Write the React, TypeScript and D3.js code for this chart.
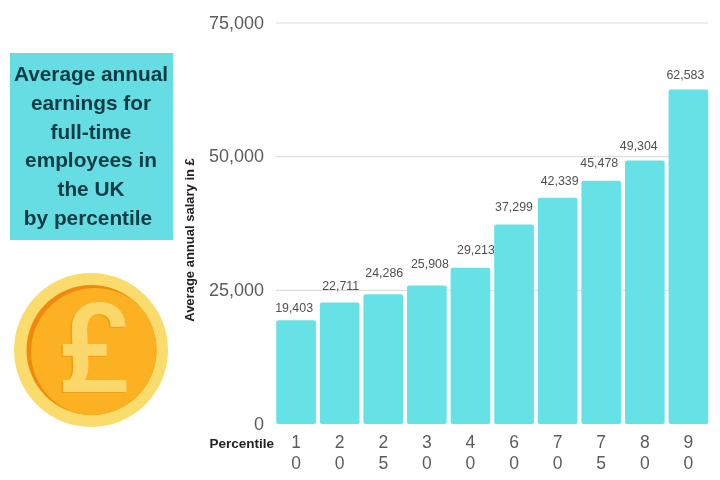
import React from "react";
import * as d3 from "d3";

const percentiles = ["10", "20", "25", "30", "40", "60", "70", "75", "80", "90"];
const salaries = [19403, 22711, 24286, 25908, 29213, 37299, 42339, 45478, 49304, 62583];
const yTicks = [0, 25000, 50000, 75000];
const titleLines = ["Average annual", "earnings for", "full-time", "employees in", "the UK", "by percentile"];
// hand-placed offsets of the value labels in the original picture
const labelShiftX = [-2, 1, 1, 3, 5.5, 0, 2, -2, -6, -3];
const labelGap = [8, 12.5, 17.5, 17.5, 13.5, 14, 13, 13.5, 10, 10];

const FONT = "'Liberation Sans', Arial, sans-serif";

export default function App() {
  const x = d3.scaleBand<string>().domain(percentiles).range([274.5, 710]).paddingInner(0.09).paddingOuter(0.04);
  const y = d3.scaleLinear().domain([0, 75000]).range([424, 23]);
  const fmt = d3.format(",");
  return (
    <svg width={720} height={480} style={{ position: "absolute", left: 0, top: 0, background: "#fff" }} fontFamily={FONT}>
      <defs>
        <filter id="soft" x="-5%" y="-5%" width="110%" height="110%">
          <feGaussianBlur stdDeviation="0.5" />
        </filter>
        <clipPath id="coinClip"><circle cx={91.5} cy={350} r={65} /></clipPath>
      </defs>
      <g filter="url(#soft)">
        <rect x={10} y={53} width={163} height={187} fill="#66dde2" />
        {titleLines.map((t, i) => (
          <text key={t} x={i === 5 ? 88 : 91} y={81 + i * 28.8} textAnchor="middle" fontSize={20.8} fontWeight={700} fill="#083a44">{t}</text>
        ))}

        <circle cx={91} cy={350} r={77} fill="#f9dc6c" />
        <circle cx={91.5} cy={350} r={65} fill="#ef8a0c" />
        <circle cx={95} cy={352} r={64} fill="#fbb124" clipPath="url(#coinClip)" />
        <text x={92} y={393} textAnchor="middle" fontFamily="Roboto" fontSize={124} fontWeight={500} fill="#f0930f" opacity={0.7}>£</text>
        <text x={93.5} y={392} textAnchor="middle" fontFamily="Roboto" fontSize={124} fontWeight={500} fill="#fcd76a">£</text>

        {yTicks.filter(t => t > 0).map(t => (
          <line key={t} x1={276} x2={708} y1={y(t)} y2={y(t)} stroke="#dedede" strokeWidth={1.2} />
        ))}
        {yTicks.map(t => (
          <text key={t} x={264} y={y(t) + 5.5} textAnchor="end" fontSize={18} fill="#5c5c5c">{fmt(t)}</text>
        ))}
        <text transform="translate(194,240) rotate(-90)" textAnchor="middle" fontSize={13} fontWeight={700} fill="#222">Average annual salary in £</text>

        {percentiles.map((p, i) => {
          const cx = x(p)! + x.bandwidth() / 2;
          return (
            <g key={p}>
              <rect x={x(p)!} y={y(salaries[i])} width={x.bandwidth()} height={y(0) - y(salaries[i])} rx={2} fill="#66e1e6" />
              <text x={cx + labelShiftX[i]} y={y(salaries[i]) - labelGap[i]} textAnchor="middle" fontSize={12.4} fill="#505050">{fmt(salaries[i])}</text>
              <text x={cx} y={448} textAnchor="middle" fontSize={17.5} fill="#5c5c5c">{p[0]}</text>
              <text x={cx} y={469} textAnchor="middle" fontSize={17.5} fill="#5c5c5c">{p[1]}</text>
            </g>
          );
        })}
        <text x={274} y={448} textAnchor="end" fontSize={13.5} fontWeight={700} fill="#222">Percentile</text>
      </g>
    </svg>
  );
}
